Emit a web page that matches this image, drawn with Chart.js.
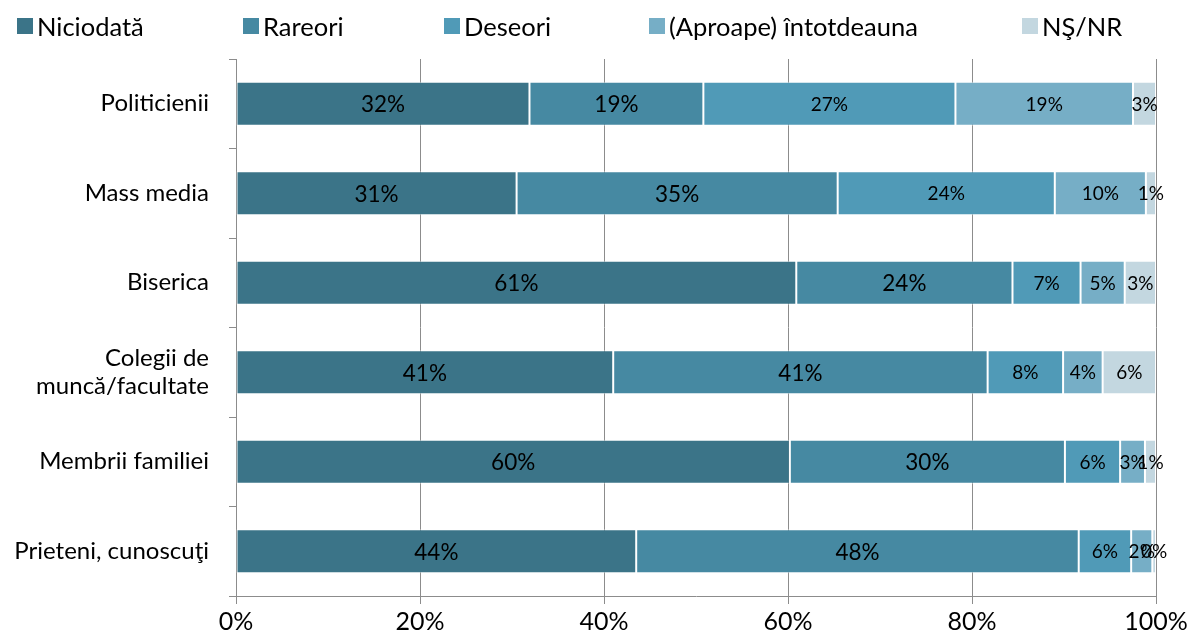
<!DOCTYPE html>
<html>
<head>
<meta charset="utf-8">
<script src="https://cdn.jsdelivr.net/npm/chart.js@4/dist/chart.umd.min.js"></script>
<style>
    html, body { margin: 0; padding: 0; background: #fff; }
    #wrap { position: relative; width: 1187px; height: 641px; }
    #legend { position: absolute; left: 0; top: 0; width: 1187px; height: 50px; font-family: Lato, sans-serif; font-size: 25.5px; color: #000; }
    .item { position: absolute; top: 11px; display: flex; align-items: center; white-space: nowrap; line-height: 30px; }
    .box { width: 16px; height: 16px; margin-right: 4px; }
</style>
</head>
<body>
<div id="wrap">
    <canvas id="chart" width="1187" height="641"></canvas>
    <div id="legend"></div>
</div>
<script>
// Categories (top to bottom)
const categories = ['Politicienii', 'Mass media', 'Biserica', ['Colegii de', 'muncă/facultate'], 'Membrii familiei', 'Prieteni, cunoscuţi'];
const seriesNames = ['Niciodată', 'Rareori', 'Deseori', '(Aproape) întotdeauna', 'NŞ/NR'];

// Series values, %
const niciodata = [31.9, 30.5, 60.9, 41.0, 60.2, 43.5];
const rareori   = [18.9, 34.9, 23.5, 40.7, 29.9, 48.1];
const deseori   = [27.4, 23.6, 7.4, 8.2, 6.0, 5.7];
const aproape   = [19.3, 9.9, 4.8, 4.3, 2.7, 2.3];
const nsnr      = [2.5, 1.1, 3.4, 5.8, 1.2, 0.4];

const xTicks = [0, 20, 40, 60, 80, 100];

const colors = ['#3b7488', '#4689a2', '#509ab7', '#76aec6', '#c3d7e0'];
const legendLeft = [17, 243, 444, 649, 1022];

// HTML legend
const legendEl = document.getElementById('legend');
seriesNames.forEach((name, i) => {
    const item = document.createElement('div');
    item.className = 'item';
    item.style.left = legendLeft[i] + 'px';
    const box = document.createElement('span');
    box.className = 'box';
    box.style.background = colors[i];
    const label = document.createElement('span');
    label.textContent = name;
    item.appendChild(box);
    item.appendChild(label);
    legendEl.appendChild(item);
});

// value labels in the middle of every segment
const barLabels = {
    id: 'barLabels',
    afterDatasetsDraw(chart) {
        const ctx = chart.ctx;
        ctx.save();
        ctx.textAlign = 'center';
        ctx.textBaseline = 'middle';
        ctx.fillStyle = '#000';
        chart.data.datasets.forEach((ds, i) => {
            const meta = chart.getDatasetMeta(i);
            ctx.font = (i < 2 ? 22.5 : 19) + 'px Lato';
            meta.data.forEach((bar, j) => {
                const x = (bar.x + bar.base) / 2;
                ctx.fillText(Math.round(ds.data[j]) + '%', x, bar.y + 1);
            });
        });
        ctx.restore();
    }
};

const seriesData = [niciodata, rareori, deseori, aproape, nsnr];
const gray = '#8c8c8c';

function draw() {
    const ctx = document.getElementById('chart').getContext('2d');
    new Chart(ctx, {
        type: 'bar',
        data: {
            labels: categories,
            datasets: seriesData.map((values, i) => ({
                label: seriesNames[i],
                data: values,
                backgroundColor: colors[i],
                borderColor: 'rgba(255, 255, 255, 0.55)',
                borderWidth: 1,
                borderSkipped: false,
                categoryPercentage: 1,
                barPercentage: 0.49
            }))
        },
        options: {
            indexAxis: 'y',
            responsive: false,
            animation: false,
            devicePixelRatio: 1,
            layout: {
                padding: { top: 59, right: 31, bottom: 0, left: 0 }
            },
            plugins: {
                legend: { display: false },
                tooltip: { enabled: false }
            },
            scales: {
                x: {
                    stacked: true,
                    min: 0,
                    max: 100,
                    afterBuildTicks: s => { s.ticks = xTicks.map(v => ({ value: v })); },
                    afterFit: s => {
                        s.height = 45;
                        s.paddingLeft = 0;
                        s.paddingRight = 0;
                    },
                    grid: { color: gray, tickLength: 8 },
                    border: { color: gray },
                    ticks: {
                        callback: v => v + '%',
                        padding: 3,
                        maxRotation: 0,
                        color: '#000',
                        font: { family: 'Lato', size: 25 }
                    }
                },
                y: {
                    stacked: true,
                    afterFit: s => { s.width = 236; },
                    grid: { offset: true, drawOnChartArea: false, tickLength: 7, color: gray },
                    border: { color: gray },
                    ticks: {
                        padding: 20,
                        color: '#000',
                        font: { family: 'Lato', size: 24 }
                    }
                }
            }
        },
        plugins: [barLabels]
    });
}

document.fonts.load('22px Lato').then(draw, draw);
</script>
</body>
</html>
